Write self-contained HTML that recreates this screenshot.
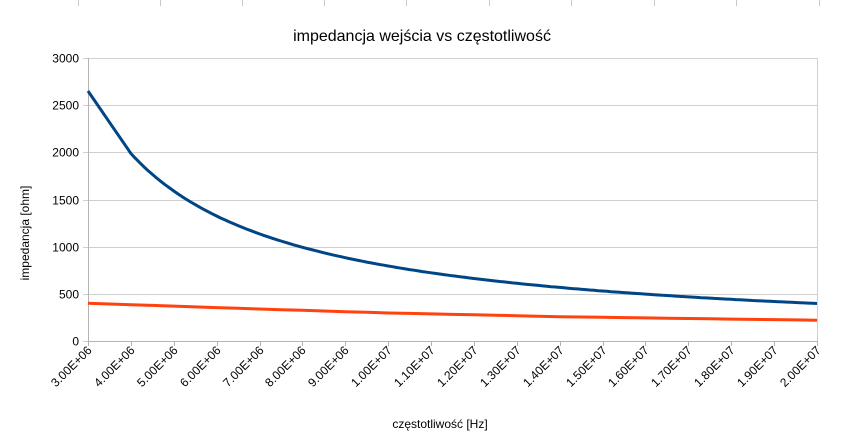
<!DOCTYPE html>
<html><head><meta charset="utf-8"><style>
html,body{margin:0;padding:0;background:#fff;width:843px;height:444px;overflow:hidden}
svg{display:block;font-family:"Liberation Sans",sans-serif}
</style></head><body>
<svg id="s" width="843" height="444" xmlns="http://www.w3.org/2000/svg">
<g stroke="#c8c8c8" stroke-width="1">
<line x1="78.5" y1="0" x2="78.5" y2="6"/><line x1="160.5" y1="0" x2="160.5" y2="6"/><line x1="242.5" y1="0" x2="242.5" y2="6"/><line x1="324.5" y1="0" x2="324.5" y2="6"/><line x1="406.5" y1="0" x2="406.5" y2="6"/><line x1="489.5" y1="0" x2="489.5" y2="6"/><line x1="571.5" y1="0" x2="571.5" y2="6"/><line x1="654.5" y1="0" x2="654.5" y2="6"/><line x1="736.5" y1="0" x2="736.5" y2="6"/><line x1="819.5" y1="0" x2="819.5" y2="6"/>
</g>
<text x="422" y="41" font-size="16" text-anchor="middle" fill="#000">impedancja wejścia vs częstotliwość</text>
<g id="grid" stroke="#d0d0d0" stroke-width="1"></g>
<g id="ylab" font-size="12" fill="#000" text-anchor="end"></g>
<g id="xlab" font-size="12" fill="#000"></g>
<text x="440" y="428" font-size="12" text-anchor="middle">częstotliwość [Hz]</text>
<text transform="translate(29,233) rotate(-90)" font-size="12" text-anchor="middle">impedancja [ohm]</text>
<polyline id="blue" fill="none" stroke="#004586" stroke-width="3" stroke-linejoin="round"/>
<polyline id="red" fill="none" stroke="#ff420e" stroke-width="3" stroke-linejoin="round"/>
</svg>
<script>
var L=88,R=817,T=58,B=341,ns="http://www.w3.org/2000/svg";
function X(f){return L+(f-3)/17*(R-L)}
function Y(v){return B-v/3000*(B-T)}
var g=document.getElementById('grid'),yl=document.getElementById('ylab'),xl=document.getElementById('xlab');
function el(p,t,a){var e=document.createElementNS(ns,t);for(var k in a)e.setAttribute(k,a[k]);p.appendChild(e);return e}
for(var v=0;v<=3000;v+=500){var y=Math.round(Y(v))+.5;el(g,'line',{x1:L-5,x2:R,y1:y,y2:y});var t=el(yl,'text',{x:L-9,y:y+4});t.textContent=v;}
el(g,'line',{x1:L+.5,x2:L+.5,y1:T,y2:B+5,stroke:'#b3b3b3'});
el(g,'line',{x1:R+.5,x2:R+.5,y1:T,y2:B,stroke:'#d0d0d0'});
el(g,'line',{x1:L,x2:R,y1:B+.5,y2:B+.5,stroke:'#b3b3b3'});
for(var f=3;f<=20;f++){var x=Math.round(X(f))+.5;el(g,'line',{x1:x,x2:x,y1:B,y2:B+5,stroke:'#b3b3b3'});
var lab=f<10?f+'.00E+06':(f/10).toFixed(2)+'E+07';
var t=el(xl,'text',{x:0,y:0,'text-anchor':'end',transform:'translate('+(x+4)+','+(B+10)+') rotate(-45)'});t.textContent=lab;}
var bp=[],rp=[];
var rk=[[3,400],[7,339],[10,297],[14,258],[20,220]];
function red(f){for(var i=0;i<rk.length-1;i++){if(f<=rk[i+1][0]){var a=rk[i],b=rk[i+1];return a[1]+(b[1]-a[1])*(f-a[0])/(b[0]-a[0])}}return 220}
bp.push(X(3).toFixed(1)+','+Y(2650).toFixed(1));
for(var f=4;f<=20.001;f+=0.1){bp.push(X(f).toFixed(1)+','+Y(7950/f).toFixed(1));}
for(var f=3;f<=20.001;f+=0.5){rp.push(X(f).toFixed(1)+','+Y(red(f)).toFixed(1));}
document.getElementById('blue').setAttribute('points',bp.join(' '));
document.getElementById('red').setAttribute('points',rp.join(' '));
</script>
</body></html>
